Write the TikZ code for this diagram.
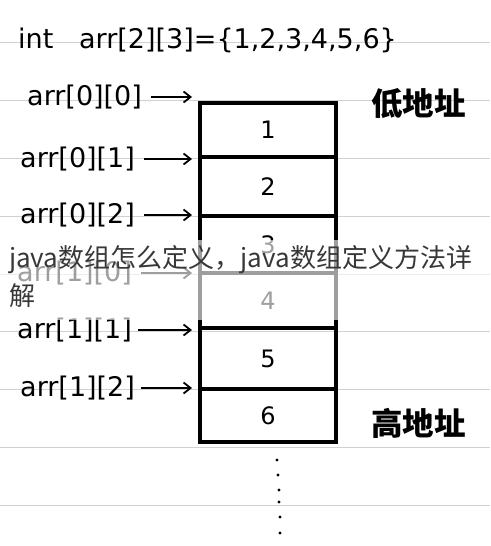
\documentclass[tikz,border=0pt]{standalone}
\usepackage{fontspec}
\setmainfont{DejaVu Sans}
\newfontfamily\cjk{Noto Sans CJK SC}
\usetikzlibrary{arrows.meta}
\begin{document}
\begin{tikzpicture}[x=1pt,y=-1pt,
  rule/.style={draw=black!18, line width=0.8pt},
  cell/.style={draw=black, line width=4pt, minimum width=136pt, inner sep=0pt, font=\fontsize{24}{26}\selectfont},
  lbl/.style={font=\fontsize{27}{29}\selectfont, inner sep=0pt, anchor=west},
  ptr/.style={line width=1.8pt, -{Straight Barb[length=7pt,width=11pt]}, shorten >=6pt},
  addr/.style={font=\cjk\fontsize{31.5}{33}\selectfont\bfseries, anchor=west, inner sep=0pt},
  dotmark/.style={fill=black, circle, inner sep=0pt, minimum size=3.2pt},
  band/.style={fill=white, fill opacity=0.62, draw=none},
  headline/.style={font=\cjk\fontsize{26}{38}\selectfont, text=black!78, anchor=north west, inner sep=0pt, align=left}
]
\fill[white] (0,0) rectangle (490,546);
\useasboundingbox (0,0) rectangle (490,546);
% ruled paper
\foreach \y in {42,100,158,216,274,331,389,447,505}
  \draw[rule] (0,\y) -- (490,\y);
% declaration
\node[lbl] (decl) at (18,40) {int\ \ \ arr[2][3]=\{1,2,3,4,5,6\}};
% cells
\node[cell, minimum height=54pt] (c1) at (268,130) {1};
\node[cell, minimum height=59pt] (c2) at (268,186.5) {2};
\node[cell, minimum height=57pt] (c3) at (268,244.5) {3};
\node[cell, minimum height=55pt] (c4) at (268,300.5) {4};
\node[cell, minimum height=61pt] (c5) at (268,358.5) {5};
\node[cell, minimum height=53pt] (c6) at (268,415.5) {6};
% labels
\node[lbl] (l1) at (27,97) {arr[0][0]};
\node[lbl] (l2) at (20,159) {arr[0][1]};
\node[lbl] (l3) at (20,215) {arr[0][2]};
\node[lbl] (l4) at (17,273) {arr[1][0]};
\node[lbl] (l5) at (17,330) {arr[1][1]};
\node[lbl] (l6) at (20,388) {arr[1][2]};
\draw[ptr] ([xshift=9pt]l1.east) -- (l1.east -| c1.west);
\draw[ptr] ([xshift=9pt]l2.east) -- (l2.east -| c2.west);
\draw[ptr] ([xshift=9pt]l3.east) -- (l3.east -| c3.west);
\draw[ptr] ([xshift=9pt]l4.east) -- (l4.east -| c4.west);
\draw[ptr] ([xshift=6pt]l5.east) -- (l5.east -| c5.west);
\draw[ptr] ([xshift=6pt]l6.east) -- (l6.east -| c6.west);
% addresses
\node[addr] (low) at (371,104) {低地址};
\node[addr] (high) at (371,423) {高地址};
% continuation dots
\foreach \x/\y [count=\i] in {277/460,278/475,279/490,279/502,280/517,280/533}
  \node[dotmark] (d\i) at (\x,\y) {};
% overlay band and headline
\path[band] (0,240) rectangle (490,320);
\node[headline] (title) at (9,245) {java数组怎么定义，java数组定义方法详\\解};
\end{tikzpicture}
\end{document}
